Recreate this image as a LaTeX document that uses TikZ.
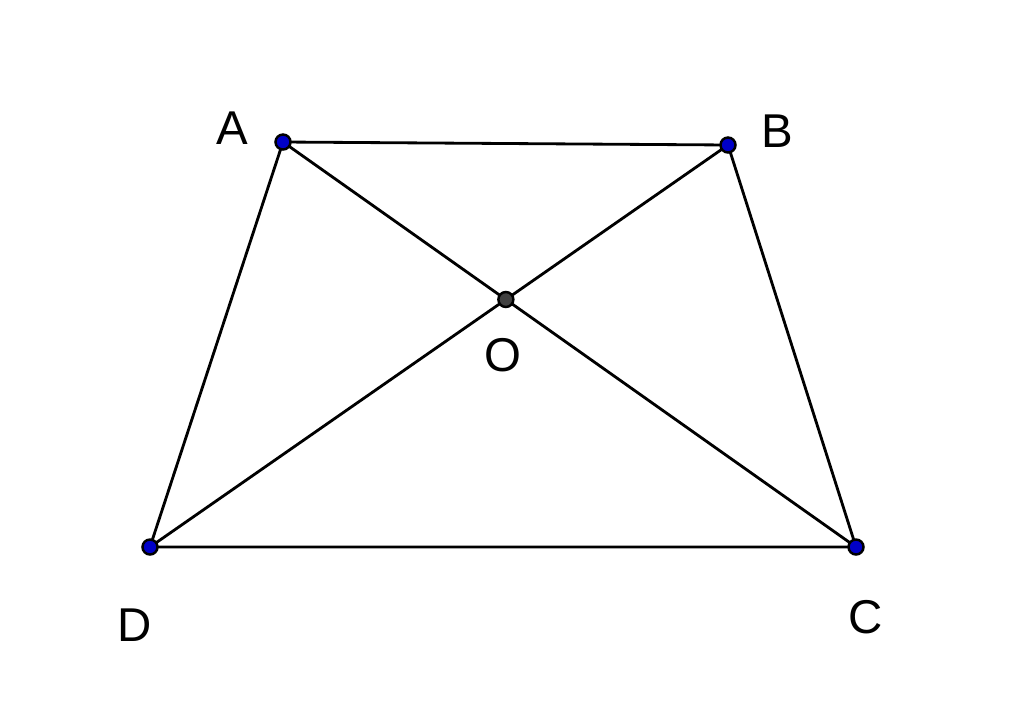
\documentclass[tikz,border=0pt]{standalone}
\usepackage{fontspec}
\setmainfont{Liberation Sans}
\usetikzlibrary{calc}
\definecolor{azulpunto}{RGB}{0,0,200}
\definecolor{grisO}{RGB}{64,64,64}
\tikzset{
    lado/.style={black, line width=0.8pt},
    punto/.style={draw=black, line width=0.7pt},
    etiqueta/.style={font=\fontsize{13.5}{15}\selectfont, inner sep=0pt}
}
\begin{document}
\begin{tikzpicture}
    % Marco de la imagen
    \useasboundingbox (0,0) rectangle (10.24,7.12);

    % Vértices del trapecio
    \coordinate (A) at (2.83,5.70);
    \coordinate (B) at (7.28,5.67);
    \coordinate (C) at (8.56,1.65);
    \coordinate (D) at (1.50,1.65);
    \coordinate (O) at (intersection of A--C and B--D);

    % Lados y diagonales
    \draw[lado] (A) -- (B) -- (C) -- (D) -- cycle;
    \draw[lado] (A) -- (C);
    \draw[lado] (B) -- (D);

    % Puntos
    \foreach \p in {A,B,C,D} {
        \filldraw[punto, fill=azulpunto] (\p) circle (0.075cm);
    }
    \filldraw[punto, fill=grisO] (O) circle (0.075cm);

    % Etiquetas
    \node[etiqueta] (etA) at (2.32,5.84) {A};
    \node[etiqueta] (etB) at (7.77,5.81) {B};
    \node[etiqueta] (etO) at (5.03,3.57) {O};
    \node[etiqueta] (etD) at (1.35,0.87) {D};
    \node[etiqueta] (etC) at (8.66,0.95) {C};
\end{tikzpicture}
\end{document}
